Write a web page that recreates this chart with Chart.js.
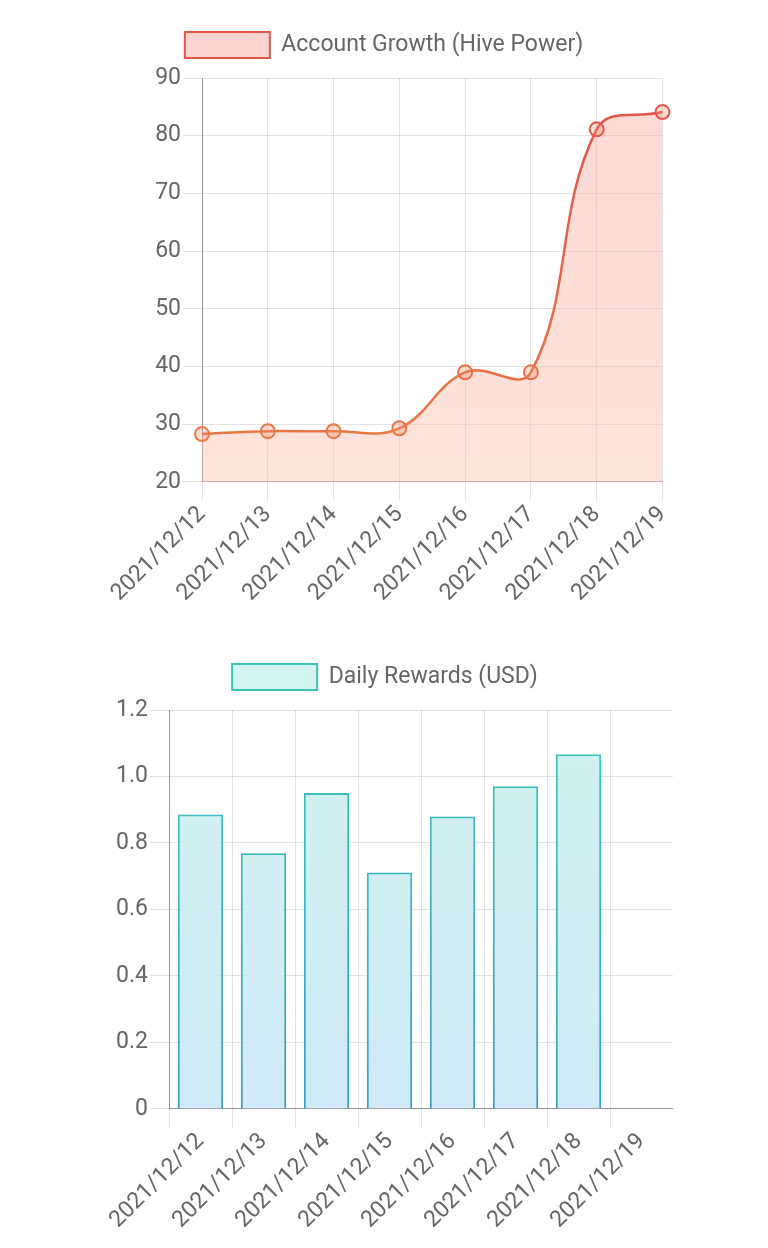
<!DOCTYPE html>
<html>
<head>
<meta charset="utf-8">
<script src="https://cdn.jsdelivr.net/npm/chart.js@4/dist/chart.umd.min.js"></script>
<style>
  html, body { margin: 0; padding: 0; background: #fff; }
  body { width: 768px; height: 1248px; position: relative; overflow: hidden; }
  .box { position: absolute; }
  #b1 { left: 86px; top: 18px; width: 596px; height: 589px; }
  #b2 { left: 97px; top: 650px; width: 576px; height: 584px; }
</style>
</head>
<body>
<div class="box" id="b1"><canvas id="c1"></canvas></div>
<div class="box" id="b2"><canvas id="c2"></canvas></div>
<script>
const dates = ["2021/12/12","2021/12/13","2021/12/14","2021/12/15","2021/12/16","2021/12/17","2021/12/18","2021/12/19"];
const hivePower = [28.3, 28.8, 28.8, 29.3, 39.0, 39.0, 81.1, 84.1];
const dailyRewards = [0.886, 0.769, 0.950, 0.711, 0.880, 0.971, 1.067];
const growthLabel = "Account Growth (Hive Power)";
const rewardsLabel = "Daily Rewards (USD)";
const growthTicks = { min: 20, max: 90, step: 10 };
const rewardTicks = { min: 0, max: 1.2, step: 0.2 };

const FONT = "Roboto, 'Noto Sans', sans-serif";
const FS = 23;
const TICK_LEN = 19;
Chart.defaults.font.family = FONT;
Chart.defaults.font.size = FS;
Chart.defaults.color = '#666';

function vGrad(chart, top, bottom) {
  const area = chart.chartArea;
  if (!area) return null;
  const g = chart.ctx.createLinearGradient(0, area.top, 0, area.bottom);
  g.addColorStop(0, top);
  g.addColorStop(1, bottom);
  return g;
}

const legendGap = {
  id: 'legendGap',
  beforeInit(chart) {
    const orig = chart.legend.fit;
    chart.legend.fit = function () { orig.call(this); this.height += 10; };
  }
};

function legendOpts(fill, stroke) {
  return {
    position: 'top',
    labels: {
      boxWidth: 85, boxHeight: 26, padding: 14,
      font: { size: FS, family: FONT }, color: '#666',
      generateLabels(chart) {
        return chart.data.datasets.map((ds, i) => ({
          text: ds.label, fillStyle: fill, strokeStyle: stroke, lineWidth: 2,
          hidden: false, datasetIndex: i, fontColor: '#666'
        }));
      }
    }
  };
}

const gridCol = 'rgba(0,0,0,0.11)';

new Chart(document.getElementById('c1'), {
  type: 'line',
  plugins: [legendGap],
  data: {
    labels: dates,
    datasets: [{
      label: growthLabel,
      data: hivePower,
      tension: 0.4,
      fill: 'start',
      borderWidth: 2.5,
      borderColor: (c) => vGrad(c.chart, '#e0534a', '#ea7c42'),
      backgroundColor: (c) => vGrad(c.chart, 'rgba(249,168,162,0.45)', 'rgba(250,190,165,0.42)'),
      pointRadius: 7,
      pointBorderWidth: 2,
      pointBorderColor: (c) => vGrad(c.chart, '#e0534a', '#ea7c42'),
      pointBackgroundColor: 'rgba(240,140,110,0.3)'
    }]
  },
  options: {
    responsive: true, maintainAspectRatio: false, animation: false,
    plugins: { legend: legendOpts('rgba(250,205,200,0.85)', '#e0574a'), tooltip: { enabled: false } },
    scales: {
      x: {
        grid: { color: gridCol, tickLength: TICK_LEN },
        border: { color: 'rgba(0,0,0,0.25)' },
        ticks: { maxRotation: 45, minRotation: 45, color: '#666', padding: 0 }
      },
      y: {
        min: growthTicks.min, max: growthTicks.max,
        afterFit(scale) { scale.width = 116; },
        grid: { color: gridCol, tickLength: TICK_LEN },
        border: { color: 'rgba(0,0,0,0.35)' },
        ticks: { stepSize: growthTicks.step, color: '#666', padding: 2 }
      }
    }
  }
});

new Chart(document.getElementById('c2'), {
  type: 'bar',
  plugins: [legendGap],
  data: {
    labels: dates,
    datasets: [{
      label: rewardsLabel,
      data: dailyRewards,
      borderWidth: 2,
      borderColor: (c) => vGrad(c.chart, '#3fc6b8', '#389fc8'),
      backgroundColor: (c) => vGrad(c.chart, 'rgba(200,240,236,0.85)', 'rgba(200,230,245,0.85)')
    }]
  },
  options: {
    responsive: true, maintainAspectRatio: false, animation: false,
    plugins: { legend: legendOpts('rgba(205,243,238,0.9)', '#3ec2b4'), tooltip: { enabled: false } },
    scales: {
      x: {
        grid: { color: gridCol, tickLength: TICK_LEN },
        border: { color: 'rgba(0,0,0,0.35)' },
        ticks: { maxRotation: 45, minRotation: 45, color: '#666', padding: 0 }
      },
      y: {
        min: rewardTicks.min, max: rewardTicks.max,
        afterFit(scale) { scale.width = 72; },
        grid: { color: gridCol, tickLength: TICK_LEN },
        border: { color: 'rgba(0,0,0,0.35)' },
        ticks: {
          stepSize: rewardTicks.step, color: '#666', padding: 2,
          callback: (v) => (Math.abs(v) < 1e-9 ? '0' : v.toFixed(1))
        }
      }
    }
  }
});
</script>
</body>
</html>
